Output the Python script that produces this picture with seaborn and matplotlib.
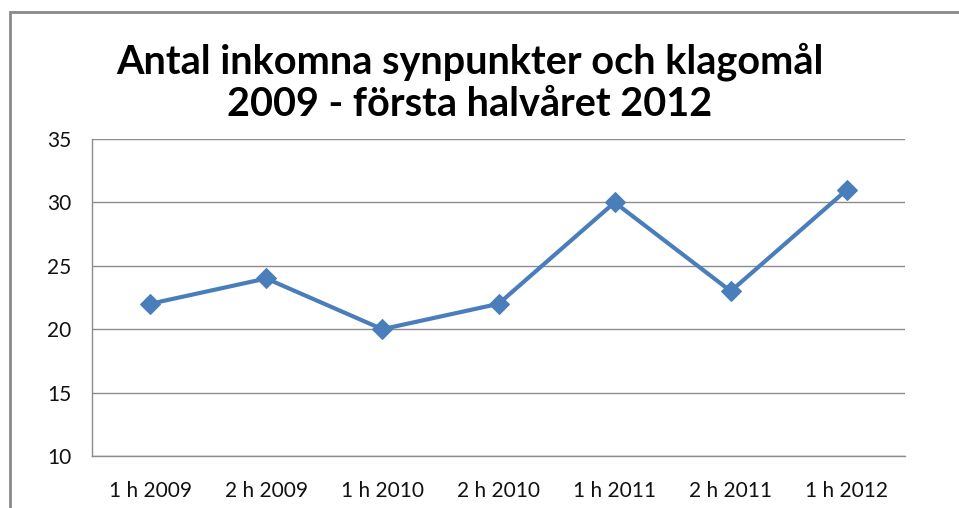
import matplotlib
matplotlib.use('Agg')
import matplotlib.pyplot as plt
from matplotlib.patches import Rectangle
import seaborn as sns
import pandas as pd

# Data
periods = ['1 h 2009', '2 h 2009', '1 h 2010', '2 h 2010', '1 h 2011', '2 h 2011', '1 h 2012']
counts = [22, 24, 20, 22, 30, 23, 31]
y_ticks = [10, 15, 20, 25, 30, 35]

df = pd.DataFrame({'period': periods, 'count': counts})

sns.set_style('white')
plt.rcParams['font.family'] = ['Lato', 'DejaVu Sans']

W, H = 959, 508
fig = plt.figure(figsize=(W / 100, H / 100), dpi=100)
ax = fig.add_axes([92 / W, 1 - 456 / H, (905 - 92) / W, (456 - 139) / H])

sns.lineplot(data=df, x='period', y='count', ax=ax, sort=False,
             color='#4A7EBB', linewidth=3, marker='D', markersize=10,
             markeredgecolor='#4A7EBB')

ax.set_xlim(-0.5, len(periods) - 0.5)
ax.set_ylim(10, 35)
ax.set_yticks(y_ticks)
ax.yaxis.grid(True, color='#8C8C8C', linewidth=1)
ax.set_xlabel('')
ax.set_ylabel('')

for side in ['top', 'right']:
    ax.spines[side].set_visible(False)
for side in ['left', 'bottom']:
    ax.spines[side].set_color('#8C8C8C')
    ax.spines[side].set_linewidth(1)

# y ticks outward, x ticks at category boundaries
ax.tick_params(axis='y', which='major', direction='out', length=7, width=1,
               color='#8C8C8C', labelsize=15, labelcolor='#111111', pad=8)
ax.set_xticks(range(len(periods)))
ax.set_xticklabels(periods)
ax.tick_params(axis='x', which='major', length=0, labelsize=15,
               labelcolor='#111111', pad=18)
ax.set_xticks([i - 0.5 for i in range(len(periods) + 1)], minor=True)
ax.tick_params(axis='x', which='minor', direction='out', length=7, width=1,
               color='#8C8C8C')

fig.text(470 / W, 1 - 62 / H, 'Antal inkomna synpunkter och klagomål',
         ha='center', va='center', fontsize=28.5, fontweight='bold', color='black')
fig.text(470 / W, 1 - 104 / H, '2009 - första halvåret 2012',
         ha='center', va='center', fontsize=28.5, fontweight='bold', color='black')

# chart frame (cropped on right and bottom)
fig.patches.append(Rectangle((10 / W, -0.1), 1.2, 1 - 12 / H + 0.1,
                             transform=fig.transFigure, fill=False,
                             edgecolor='#8A8A8A', linewidth=2))

fig.savefig('out.png', dpi=100)
